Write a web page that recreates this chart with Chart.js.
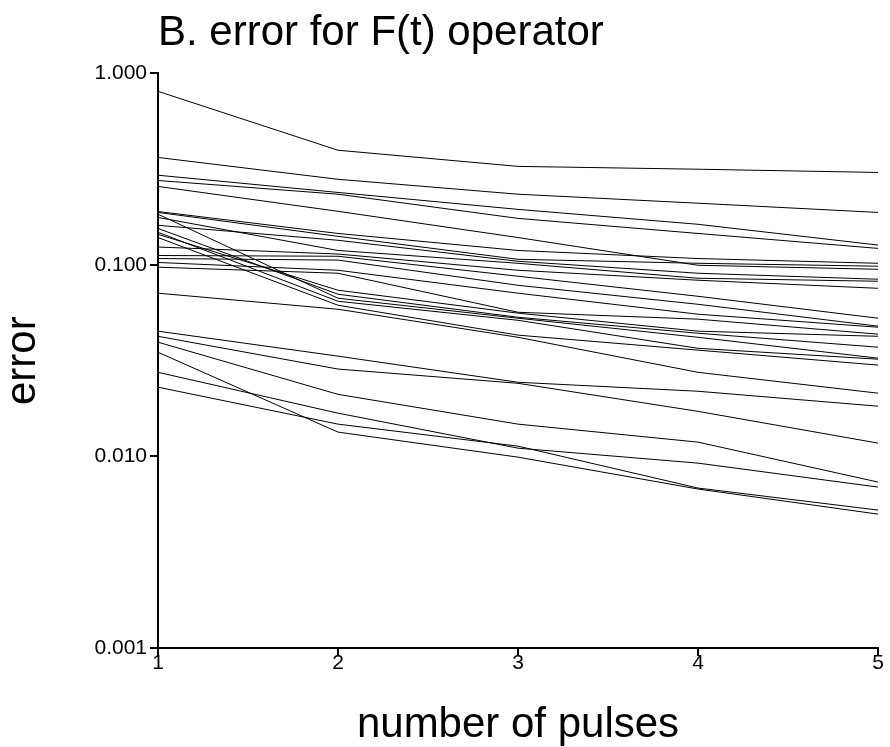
<!DOCTYPE html>
<html>
<head>
<meta charset="utf-8">
<script src="https://cdn.jsdelivr.net/npm/chart.js@4.4.1/dist/chart.umd.min.js"></script>
<style>
  html, body { margin: 0; padding: 0; background: #ffffff; }
  #wrap { width: 890px; height: 747px; position: relative; }
</style>
</head>
<body>
<div id="wrap"><canvas id="c" width="890" height="747"></canvas></div>
<script>
// ---- data ----
const pulses = ['1', '2', '3', '4', '5'];
const yTickValues = [0.001, 0.01, 0.1, 1];

const s01 = [0.806, 0.397, 0.327, 0.316, 0.304];
const s02 = [0.364, 0.280, 0.234, 0.210, 0.188];
const s03 = [0.294, 0.239, 0.195, 0.163, 0.127];
const s04 = [0.276, 0.234, 0.175, 0.146, 0.122];
const s05 = [0.257, 0.1905, 0.139, 0.0996, 0.0949];
const s06 = [0.190, 0.146, 0.119, 0.108, 0.102];
const s07 = [0.188, 0.141, 0.107, 0.102, 0.0985];
const s08 = [0.161, 0.1345, 0.1045, 0.0905, 0.0842];
const s09 = [0.177, 0.119, 0.102, 0.0852, 0.0822];
const s10 = [0.124, 0.114, 0.0938, 0.0832, 0.0755];
const s11 = [0.112, 0.111, 0.0873, 0.0686, 0.0527];
const s12 = [0.108, 0.106, 0.0783, 0.0623, 0.0479];
const s13 = [0.103, 0.0938, 0.0712, 0.0553, 0.0473];
const s14 = [0.0973, 0.0905, 0.0566, 0.0521, 0.0435];
const s15 = [0.1445, 0.0738, 0.0560, 0.0451, 0.0424];
const s16 = [0.155, 0.0703, 0.0533, 0.0440, 0.0372];
const s17 = [0.184, 0.0670, 0.0527, 0.0419, 0.0326];
const s18 = [0.148, 0.0646, 0.0514, 0.0367, 0.0322];
const s19 = [0.139, 0.0616, 0.0430, 0.0359, 0.0300];
const s20 = [0.0712, 0.0587, 0.0419, 0.0275, 0.0214];
const s21 = [0.0451, 0.0334, 0.0244, 0.0219, 0.0183];
const s22 = [0.0424, 0.0286, 0.0241, 0.0172, 0.01174];
const s23 = [0.0395, 0.0211, 0.01475, 0.01188, 0.00735];
const s24 = [0.0275, 0.01683, 0.01105, 0.00923, 0.00692];
const s25 = [0.0230, 0.01475, 0.01132, 0.00684, 0.00525];
const s26 = [0.0350, 0.0134, 0.00992, 0.00676, 0.0050];

const allSeries = [s01, s02, s03, s04, s05, s06, s07, s08, s09, s10, s11, s12, s13,
                   s14, s15, s16, s17, s18, s19, s20, s21, s22, s23, s24, s25, s26];

const titleText = 'B. error for F(t) operator';
const xTitle = 'number of pulses';
const yTitle = 'error';

// ---- chart ----
const FONT = "'Liberation Sans', Arial, Helvetica, sans-serif";

const datasets = allSeries.map((s, i) => ({
  label: 'run ' + (i + 1),
  data: s,
  borderColor: '#000000',
  backgroundColor: '#000000',
  borderWidth: 1,
  pointRadius: 0,
  pointHoverRadius: 0,
  tension: 0,
  fill: false
}));

new Chart(document.getElementById('c'), {
  type: 'line',
  data: { labels: pulses, datasets: datasets },
  options: {
    responsive: false,
    animation: false,
    devicePixelRatio: 1,
    layout: { padding: { left: 0, right: 12, top: 0, bottom: 0 } },
    plugins: {
      legend: { display: false },
      tooltip: { enabled: false },
      title: {
        display: true,
        text: titleText,
        align: 'start',
        fullSize: false,
        color: '#000000',
        font: { family: FONT, size: 42, weight: 'normal', lineHeight: 1.2 },
        padding: { top: 8, bottom: 15 }
      }
    },
    scales: {
      x: {
        type: 'category',
        offset: false,
        border: { display: true, color: '#000000', width: 2 },
        grid: { display: true, drawOnChartArea: false, drawTicks: true, tickLength: 8, color: '#000000', lineWidth: 2 },
        ticks: { color: '#000000', padding: -3, font: { family: FONT, size: 21, lineHeight: 1.0 }, maxRotation: 0 },
        title: { display: true, text: xTitle, color: '#000000', padding: { top: 0, bottom: 1 },
                 font: { family: FONT, size: 42, lineHeight: 1.0 } },
        afterFit: (scale) => { scale.height = 99; }
      },
      y: {
        type: 'logarithmic',
        min: 0.001,
        max: 1,
        border: { display: true, color: '#000000', width: 2 },
        grid: { display: true, drawOnChartArea: false, drawTicks: true, tickLength: 8, color: '#000000', lineWidth: 2 },
        afterBuildTicks: (scale) => { scale.ticks = yTickValues.map(v => ({ value: v })); },
        ticks: {
          color: '#000000', padding: 3,
          font: { family: FONT, size: 21 },
          callback: (v) => Number(v).toFixed(3)
        },
        title: { display: true, text: yTitle, color: '#000000', padding: { top: 2, bottom: 0 },
                 font: { family: FONT, size: 42, lineHeight: 1.0 } },
        afterFit: (scale) => { scale.width = 158; }
      }
    }
  }
});
</script>
</body>
</html>
